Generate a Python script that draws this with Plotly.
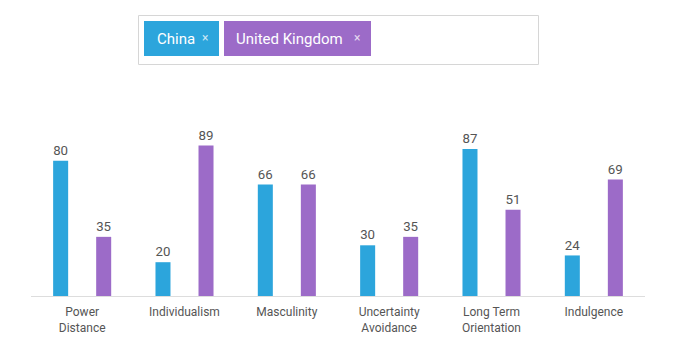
import plotly.graph_objects as go

categories = ["Power<br>Distance", "Individualism", "Masculinity", "Uncertainty<br>Avoidance",
              "Long Term<br>Orientation", "Indulgence"]
china_values = [80, 20, 66, 30, 87, 24]
uk_values = [35, 89, 66, 35, 51, 69]
series_names = ["China", "United Kingdom"]
colors = ["#2ca5dc", "#9c6bc8"]

OFF = 8  # page body margin
W, H = 675 - 2 * OFF, 357 - 2 * OFF
L, T = 31 - OFF, 127 - OFF
R = W - (645 - OFF)
B = H - (296 - OFF)
PW, PH = W - L - R, H - T - B

def px(x):
    return (x - OFF - L) / PW

def py(y):
    return (H - B - (y - OFF)) / PH

fig = go.Figure()
for name, vals, col in zip(series_names, [china_values, uk_values], colors):
    fig.add_trace(go.Bar(
        x=categories, y=vals, name=name, marker=dict(color=col, line=dict(width=0)),
        text=[str(v) for v in vals], textposition="outside",
        textfont=dict(family="Roboto", size=14, color="#555555"),
        cliponaxis=False, hoverinfo="skip"))

shapes = [
    dict(type="rect", xref="paper", yref="paper", x0=px(138.5), x1=px(538.5), y0=py(15.5), y1=py(64.5),
         line=dict(color="#d6d6d6", width=1), fillcolor="rgba(0,0,0,0)"),
    dict(type="rect", xref="paper", yref="paper", x0=px(144), x1=px(219), y0=py(21), y1=py(56),
         line=dict(width=0), fillcolor=colors[0]),
    dict(type="rect", xref="paper", yref="paper", x0=px(224), x1=px(371), y0=py(21), y1=py(56),
         line=dict(width=0), fillcolor=colors[1]),
]
annotations = []
for name, tx, cx in zip(series_names, [155, 234], [205, 357]):
    annotations.append(dict(xref="paper", yref="paper", x=px(tx), y=py(38.5), xanchor="left", yanchor="middle",
                            text=name, showarrow=False, font=dict(family="Roboto", size=15, color="white")))
    annotations.append(dict(xref="paper", yref="paper", x=px(cx), y=py(38), xanchor="center", yanchor="middle",
                            text="×", showarrow=False, font=dict(family="Roboto", size=12, color="rgba(255,255,255,0.75)")))

fig.update_layout(
    width=W, height=H, margin=dict(l=L, r=R, t=T, b=B),
    paper_bgcolor="white", plot_bgcolor="white",
    barmode="group", bargap=0.159, bargroupgap=0.651,
    showlegend=False, shapes=shapes, annotations=annotations,
    xaxis=dict(showline=True, linecolor="#dddddd", linewidth=1, ticks="", showgrid=False,
               ticklabelstandoff=5,
               tickfont=dict(family="Roboto", size=12, color="#555555"), fixedrange=True),
    yaxis=dict(range=[0, 100], visible=False, showgrid=False, zeroline=False, fixedrange=True),
)
fig.write_html("out.html")
